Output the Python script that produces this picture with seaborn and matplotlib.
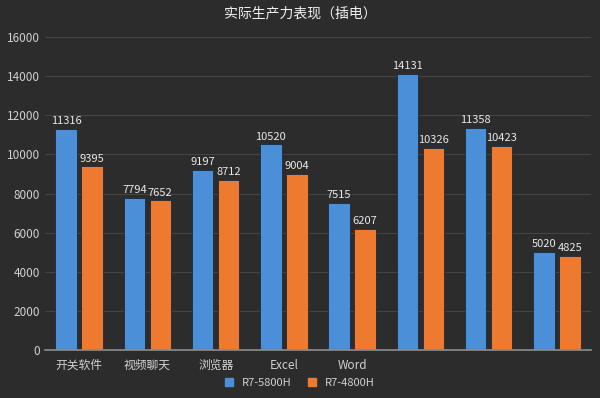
import numpy as np
import pandas as pd
import matplotlib.pyplot as plt
import seaborn as sns

categories = ['开关软件', '视频聊天', '浏览器', 'Excel', 'Word', '', '', '']
r7_5800h = [11316, 7794, 9197, 10520, 7515, 14131, 11358, 5020]
r7_4800h = [9395, 7652, 8712, 9004, 6207, 10326, 10423, 4825]
series = ['R7-5800H', 'R7-4800H']
colors = ['#4a8fd8', '#ee7a30']

df = pd.DataFrame({
    'cat': categories * 2,
    'pos': list(range(len(categories))) * 2,
    'value': r7_5800h + r7_4800h,
    'cpu': [series[0]] * len(categories) + [series[1]] * len(categories),
})

sns.set_theme(style='dark')
plt.rcParams['font.family'] = ['Noto Sans CJK SC', 'DejaVu Sans']

bg = '#2c2c2c'
fig = plt.figure(figsize=(6, 3.98), dpi=100, facecolor=bg)
ax = fig.add_axes([0.075, 0.12, 0.91, 0.787])
ax.set_facecolor(bg)

sns.barplot(data=df, x='pos', y='value', hue='cpu', palette=colors,
            saturation=1, width=0.76, gap=0.17, ax=ax, legend=False,
            edgecolor='#1e2a38', linewidth=0.6)

for cont in ax.containers:
    ax.bar_label(cont, fmt='%d', color='#e8e8e8', fontsize=8, padding=2)

ax.set_ylim(0, 16000)
ax.set_yticks(np.arange(0, 16001, 2000))
ax.set_xticks(range(len(categories)))
ax.set_xticklabels(categories)
ax.tick_params(axis='both', colors='#d0d0d0', labelsize=8.5, length=0)
ax.tick_params(axis='x', pad=6)
ax.set_xlabel('')
ax.set_ylabel('')
ax.grid(axis='y', color='#444444', linewidth=0.8)
ax.set_axisbelow(True)
for s in ['top', 'right', 'left']:
    ax.spines[s].set_visible(False)
ax.spines['bottom'].set_color('#8a8a8a')
ax.set_xlim(-0.5, len(categories) - 0.5)

fig.suptitle('实际生产力表现（插电）', color='#f0f0f0', fontsize=10,
             y=0.985)

handles = [plt.Rectangle((0, 0), 1, 1, color=c) for c in colors]
fig.legend(handles, series, loc='lower center', bbox_to_anchor=(0.5, 0.0),
           ncol=2, frameon=False, fontsize=8, labelcolor='#d0d0d0',
           handlelength=0.7, handleheight=0.7, columnspacing=1.5)

fig.savefig('out.png', dpi=100, facecolor=bg)
